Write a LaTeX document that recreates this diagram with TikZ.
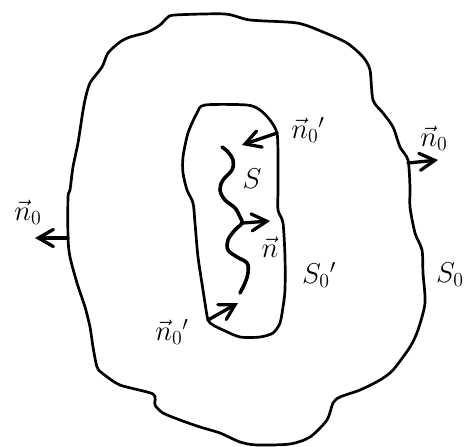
\documentclass[tikz,border=0pt]{standalone}
\usepackage{amsmath,amssymb}
\usetikzlibrary{arrows.meta}

\newcommand{\lbl}[1]{\scalebox{1.38}{$#1$}}

\begin{document}
\begin{tikzpicture}[
    x=1pt, y=-1pt,
    >={Straight Barb[length=15pt,width=17pt,line cap=round]},
    line cap=round, line join=round,
    surface/.style={draw=black, line width=2.7pt},
    cut/.style={draw=black, line width=3.6pt},
    normal/.style={->, line width=3.3pt},
    label/.style={font=\huge, inner sep=0pt}
]
    \useasboundingbox (0,0) rectangle (467,447);

    % outer surface S_0
    \draw[surface] plot[smooth cycle, tension=0.45] coordinates {
        (175,15) (225,14) (250,20) (297,23) (323,32) (347,43) (363,57) (370,70)
        (373,100) (383,113) (393,127) (400,147) (408,160) (410,187) (410,207)
        (415,233) (422,250) (423,273) (425,303) (418,330) (410,347) (393,370)
        (380,380) (360,390) (340,397) (333,403) (327,420) (310,437) (290,444)
        (257,445) (240,442) (220,433) (200,427) (180,420) (163,413) (155,405)
        (153,394) (120,385) (102,373) (97,367) (93,347) (90,327) (85,307)
        (77,283) (70,257) (68,238) (68,197) (70,190) (73,167) (78,143) (82,117)
        (85,100) (90,83) (102,67) (108,53) (120,42) (130,37) (148,32) (160,25)
        (167,18)};

    % inner surface S_0'
    \draw[surface] plot[smooth cycle, tension=0.45] coordinates {
        (205,105) (247,105) (260,110) (270,120) (277,133) (278,157) (278,190)
        (278,210) (283,223) (285,257) (285,290) (283,307) (280,323) (273,333)
        (260,337) (240,337) (223,330) (213,325) (208,320) (205,303) (203,290)
        (198,257) (195,223) (193,203) (187,190) (183,173) (183,157) (188,133)
        (197,113)};

    % cut S
    \draw[cut] plot[smooth, tension=0.6] coordinates {
        (222,147) (228,152) (233,160) (232,170) (223,180) (220,190) (225,200)
        (235,208) (240,217) (242,223) (235,230) (228,240) (228,250) (237,257)
        (247,263) (248,273) (245,283) (240,293)};

    \coordinate (outL) at (68,238);
    \coordinate (outLtip) at (35,238);
    \coordinate (outR) at (408,163);
    \coordinate (outRtip) at (438,160);
    \coordinate (inT) at (277,133);
    \coordinate (inTtip) at (242,145);
    \coordinate (inB) at (208,320);
    \coordinate (inBtip) at (238,303);
    \coordinate (cutP) at (243,223);
    \coordinate (cutPtip) at (270,221);

    \draw[normal] (outL) -- (outLtip);
    \draw[normal] (outR) -- (outRtip);
    \draw[normal] (inT) -- (inTtip);
    \draw[normal] (inB) -- (inBtip);
    \draw[normal] (cutP) -- (cutPtip);

    \node[label] (nL) at (28,212) {\lbl{\vec{n}_0}};
    \node[label] (nR) at (434,138) {\lbl{\vec{n}_0}};
    \node[label] (nT) at (308,130) {\lbl{\vec{n}_0{}'}};
    \node[label] (nB) at (172,332) {\lbl{\vec{n}_0{}'}};
    \node[label] (nS) at (270,247) {\lbl{\vec{n}}};
    \node[label] (S) at (252,179) {\lbl{S}};
    \node[label] (S0p) at (319,275) {\lbl{S_0{}'}};
    \node[label] (S0) at (450,275) {\lbl{S_0}};
\end{tikzpicture}
\end{document}
